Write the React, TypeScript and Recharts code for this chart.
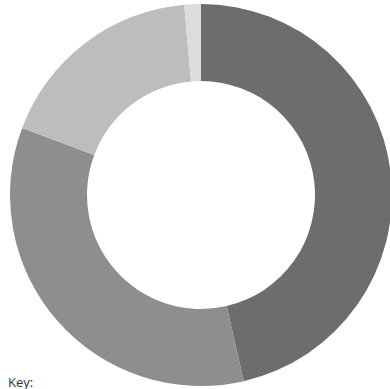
import React from "react";
import { PieChart, Pie, Cell } from "recharts";

// slice shares, clockwise from 12 o'clock
const categories = ["Segment A", "Segment B", "Segment C", "Segment D"];
const shares = [46.4, 34.3, 17.9, 1.4];
const sliceColors = ["#6d6d6d", "#8e8e8e", "#bdbdbd", "#dcdcdc"];

const data = categories.map((name, i) => ({ name, value: shares[i] }));

export default function App() {
  return (
    <div
      style={{
        position: "absolute",
        left: 0,
        top: 0,
        width: 390,
        height: 389,
        overflow: "hidden",
        background: "#fff"
      }}
    >
      <PieChart
        width={390}
        height={389}
        margin={{ top: 0, right: 0, bottom: 0, left: 0 }}
      >
        <Pie
          data={data}
          dataKey="value"
          nameKey="name"
          cx={201}
          cy={195}
          innerRadius={114}
          outerRadius={191}
          startAngle={90}
          endAngle={-270}
          stroke="none"
          isAnimationActive={false}
        >
          {data.map((d, i) => (
            <Cell key={d.name} fill={sliceColors[i]} />
          ))}
        </Pie>
      </PieChart>
      <div
        style={{
          position: "absolute",
          left: 8,
          top: 373,
          fontFamily: "'Open Sans', sans-serif",
          fontSize: 13,
          color: "#333"
        }}
      >
        Key:
      </div>
    </div>
  );
}
